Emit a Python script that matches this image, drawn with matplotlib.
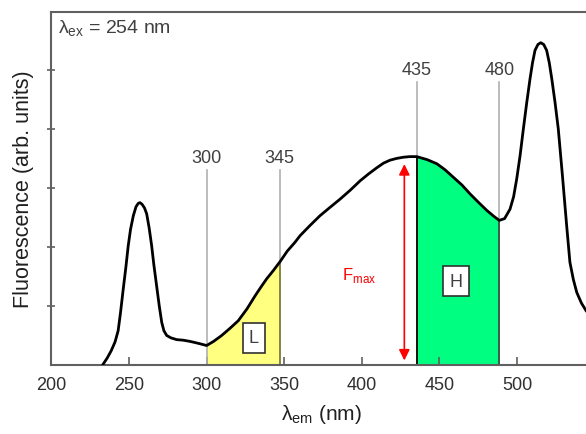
import numpy as np
import matplotlib
matplotlib.use("Agg")
import matplotlib.pyplot as plt
from matplotlib.patches import FancyArrowPatch

plt.rcParams['font.family'] = ['Liberation Sans', 'DejaVu Sans']

# emission spectrum
wavelength = [233, 236, 238.5, 241, 243, 244.5, 246.3, 248, 249.5, 251, 252.8, 254.5, 256, 257.1, 258.5,
              260, 261.4, 263, 264.6, 266, 267.8, 269.5, 271.1, 272.5, 274.3, 277, 280.7,
              285, 289.3, 292.6, 295.7, 300, 304.5, 309.7, 315, 320.4, 326, 331.2, 335, 338.7,
              343, 347.3, 352, 357, 360.2, 366.5, 373.1, 379.5, 386, 392.5, 398.9, 404.5,
              409.6, 414, 418.2, 422.5, 426.8, 431, 435.4, 442,
              448.3, 453.5, 459, 464.5, 469.7, 475, 480.5, 485, 488.6, 492, 495.5, 497.8,
              499.8, 502, 504.1, 506.3, 508.4, 510, 511.6, 513.5, 515.3, 517.2, 519.1,
              520.8, 522.4, 524.5, 526.6, 529.3, 532, 534.1, 536.3, 538.5, 541.5, 544.5, 550]
intensity = [0.0, 0.12, 0.24, 0.39, 0.58, 0.88, 1.29, 1.66, 2.02, 2.3, 2.53, 2.68, 2.74, 2.75, 2.72,
             2.66, 2.56, 2.32, 2.02, 1.7, 1.34, 1.0, 0.72, 0.58, 0.5, 0.46, 0.43,
             0.42, 0.40, 0.38, 0.36, 0.33, 0.40, 0.50, 0.62, 0.75, 0.95, 1.17, 1.32, 1.46,
             1.60, 1.75, 1.93, 2.08, 2.19, 2.36, 2.53, 2.67, 2.81, 2.96, 3.12, 3.24,
             3.34, 3.42, 3.47, 3.50, 3.52, 3.53, 3.53, 3.48,
             3.41, 3.31, 3.18, 3.05, 2.90, 2.76, 2.62, 2.52, 2.45, 2.48, 2.64, 2.85,
             3.15, 3.55, 4.0, 4.45, 4.85, 5.12, 5.33, 5.43, 5.46, 5.43, 5.33,
             5.12, 4.85, 4.45, 4.0, 3.2, 2.36, 1.74, 1.45, 1.23, 1.05, 0.92, 0.75]

# marker wavelengths: drawn position and printed label
marker_pos = [300, 347, 435.4, 488.6]
marker_labels = ["300", "345", "435", "480"]
marker_label_y = [3.51, 3.51, 5.0, 5.0]
marker_line_top = [3.31, 3.31, 4.8, 4.8]

region_L = (300, 347)
region_H = (435.4, 488.6)
fmax_x = 427.4
fmax_top = 3.45

x = np.array(wavelength)
y = np.array(intensity)

fig = plt.figure(figsize=(5.86, 4.35), dpi=100)
ax = fig.add_axes([51.4/586, 69/435, (594.6-51.4)/586, (366-13)/435])
ax.set_xlim(200, 550)
ax.set_ylim(0, 5.98)

# filled regions
def fill_region(lo, hi, color):
    xs = np.concatenate(([lo], x[(x > lo) & (x < hi)], [hi]))
    ys = np.interp(xs, x, y)
    ax.fill_between(xs, 0, ys, color=color, lw=0, zorder=1)
    return ys[0], ys[-1]

yL0, yL1 = fill_region(*region_L, '#ffff80')
yH0, yH1 = fill_region(*region_H, '#00ff80')

# marker lines
for pos, lab, ly, lt in zip(marker_pos, marker_labels, marker_label_y, marker_line_top):
    ax.plot([pos, pos], [0 if pos == marker_pos[0] else np.interp(pos, x, y), lt],
            color='#b0b0b0', lw=1.2, zorder=2)
    ax.text(pos, ly, lab, ha='center', va='center', fontsize=13, color='#404040', zorder=5)

# region edge lines
ax.plot([region_L[1]]*2, [0, yL1], color='#707030', lw=1.2, zorder=2)
ax.plot([region_H[0]]*2, [0, yH0], color='#101010', lw=1.4, zorder=2)
ax.plot([region_H[1]]*2, [0, yH1], color='#404040', lw=1.2, zorder=2)

# spectrum
ax.plot(x, y, color='black', lw=2.0, solid_joinstyle='round', solid_capstyle='round', zorder=4)

# F_max arrow
arr = FancyArrowPatch((fmax_x, 0.03), (fmax_x, fmax_top), arrowstyle='<|-|>',
                      mutation_scale=16, color='red', lw=1.2, zorder=5)
ax.add_patch(arr)
ax.text(398, 1.54, r'F$_{\mathregular{max}}$', color='red', fontsize=12,
        ha='center', va='center', zorder=5)

# boxes L and H
for txt, bx, by in [('L', 330.5, 0.46), ('H', 460.5, 1.42)]:
    ax.text(bx, by, txt, fontsize=13, color='#404040', ha='center', va='center', zorder=6,
            bbox=dict(boxstyle='square,pad=0.35', fc='white', ec='#303030', lw=1.2))

ax.text(0.013, 0.955, 'λ$_{\\mathregular{ex}}$ = 254 nm', transform=ax.transAxes,
        fontsize=14, color='#404040', ha='left', va='center')

# axes styling
ax.spines['right'].set_visible(False)
for s in ['left', 'bottom', 'top']:
    ax.spines[s].set_color('#606060')
    ax.spines[s].set_linewidth(1.5)
ax.set_xticks([200, 250, 300, 350, 400, 450, 500, 550])
ax.set_xticklabels(['200', '250', '300', '350', '400', '450', '500', ''])
ax.set_yticks([1, 2, 3, 4, 5])
ax.set_yticklabels([])
ax.tick_params(axis='x', direction='in', length=6, width=1.2, color='#606060',
               labelsize=13, labelcolor='#303030', pad=8)
ax.tick_params(axis='y', direction='inout', length=6, width=1.2, color='#606060')
ax.set_xlabel('λ$_{\\mathregular{em}}$ (nm)', fontsize=15, color='#202020')
ax.xaxis.set_label_coords((321-51.4)/(594.6-51.4), -0.105)
ax.set_ylabel('Fluorescence (arb. units)', fontsize=15.5, color='#202020', va='center')
ax.yaxis.set_label_coords(-(51.4-24)/(594.6-51.4), 0.5)

fig.savefig('out.png', dpi=100)
